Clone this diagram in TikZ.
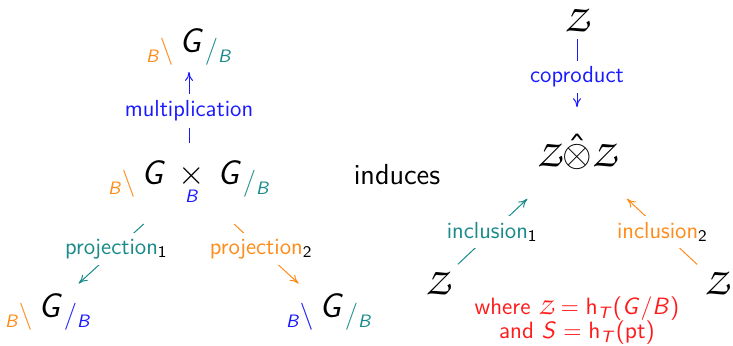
\RequirePackage{fix-cm}
\documentclass[tikz,border=0pt]{standalone}
\usetikzlibrary{arrows.meta}
\renewcommand{\familydefault}{\sfdefault}
\DeclareMathAlphabet{\mathpzc}{OT1}{pzc}{m}{it}
\DeclareSymbolFont{sfletters}{OT1}{cmss}{m}{sl}
\SetSymbolFont{operators}{normal}{OT1}{cmss}{m}{n}
\DeclareMathSymbol{G}{\mathalpha}{sfletters}{`G}
\DeclareMathSymbol{B}{\mathalpha}{sfletters}{`B}
\DeclareMathSymbol{S}{\mathalpha}{sfletters}{`S}
\DeclareMathSymbol{T}{\mathalpha}{sfletters}{`T}
\definecolor{myorange}{RGB}{255,140,26}
\definecolor{myteal}{RGB}{26,138,138}
\definecolor{myblue}{RGB}{26,26,255}
\definecolor{myred}{RGB}{255,26,26}
\newcommand{\lcos}[1]{\textcolor{#1}{\raisebox{-5pt}{\fontsize{9}{10}\selectfont$B$}\raisebox{-3pt}{\fontsize{13.5}{14}\selectfont$\backslash$}}\hspace{3pt}}
\newcommand{\rcos}[1]{\textcolor{#1}{\raisebox{-3pt}{\fontsize{13.5}{14}\selectfont$/$}\raisebox{-5pt}{\fontsize{9}{10}\selectfont$B$}}}
\newcommand{\bigG}{{\fontsize{17}{19}\selectfont$G$}}
\newcommand{\calZ}{\mathpzc{Z}}
\tikzset{
  lbl/.style={fill=white,inner sep=3pt,font=\fontsize{11.6}{13}\selectfont},
  zbig/.style={font=\fontsize{19}{21}\selectfont}
}
\begin{document}
\begin{tikzpicture}[x=0.5pt,y=-0.5pt,>={To[length=4.5pt,width=4pt]},line width=0.5pt]
\useasboundingbox (0,0) rectangle (733,345);
\node[anchor=base] (gtop) at (189,52) {\lcos{myorange}\bigG\rcos{myteal}};
\node[anchor=base] (gmid) at (189,184) {\lcos{myorange}\bigG\hspace{6pt}{\fontsize{17}{19}\selectfont$\mathop{\times}\limits_{\mbox{\fontsize{9}{10}\selectfont\color{myblue}$B$}}$}\hspace{6pt}\bigG\rcos{myteal}};
\node[anchor=base] (gleft) at (48,317) {\lcos{myorange}\bigG\rcos{myblue}};
\node[anchor=base] (gright) at (329,317) {\lcos{myblue}\bigG\rcos{myteal}};
\node[font=\fontsize{14.5}{16}\selectfont] (ind) at (397,175) {induces};
\node[zbig] (ztop) at (577,20) {$\calZ$};
\node[zbig] (zz) at (577,152) {$\calZ\mathord{\hat\otimes}\calZ$};
\node[zbig] (zl) at (438,283) {$\calZ$};
\node[zbig] (zr) at (717,283) {$\calZ$};
\node[myred,align=center,font=\fontsize{11.8}{12}\selectfont] (note) at (577,321) {where $\calZ=\mathsf{h}_T(G/B)$\\and $S=\mathsf{h}_T(\mathsf{pt})$};
\draw[->,myblue,shorten <=5pt] (gmid) -- (gtop) node[lbl,pos=0.52,text=myblue,inner ysep=3.5pt] {multiplication};
\draw[->,myteal,shorten <=9pt,shorten >=2pt] (gmid) -- (gleft) node[lbl,pos=0.5,text=myteal] {projection$_{\color{black}1}$};
\draw[->,myorange,shorten <=9pt,shorten >=2pt] (gmid) -- (gright) node[lbl,pos=0.5,text=myorange] {projection$_{\color{black}2}$};
\draw[->,myblue,shorten >=10pt] (ztop) -- (zz) node[lbl,pos=0.43,text=myblue] {coproduct};
\draw[->,myteal,shorten >=16pt] (zl) -- (zz) node[lbl,pos=0.37,text=myteal] {inclusion$_{\color{black}1}$};
\draw[->,myorange,shorten >=16pt] (zr) -- (zz) node[lbl,pos=0.37,text=myorange] {inclusion$_{\color{black}2}$};
\end{tikzpicture}
\end{document}
